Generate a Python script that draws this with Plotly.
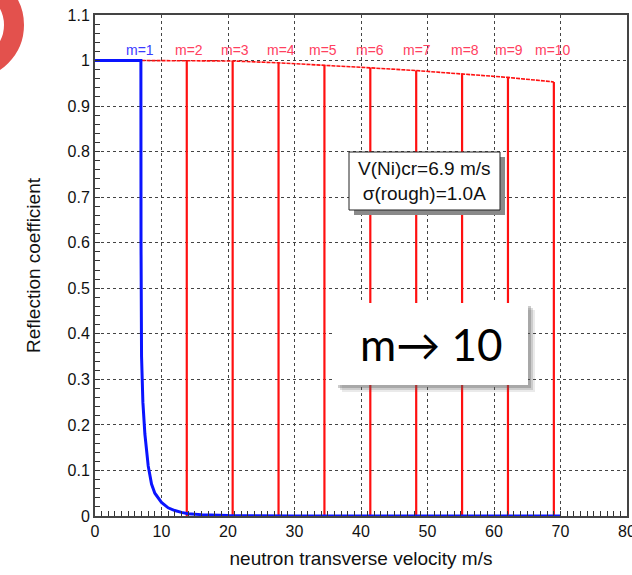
import plotly.graph_objects as go

# ---------------- data ----------------
blue_v = [0, 6.9, 6.92, 7.0, 7.2, 7.5, 8.0, 8.5, 9.0, 10.0, 11.0, 12.0, 13.0, 14.0, 16.0, 20.0, 30.0, 70.0]
blue_R = [1.0, 1.0, 0.6, 0.35, 0.25, 0.18, 0.11, 0.07, 0.05, 0.03, 0.018, 0.012, 0.008, 0.005, 0.003, 0.001, 0.0, 0.0]

m_orders = [2, 3, 4, 5, 6, 7, 8, 9, 10]
cutoff_v = [13.8, 20.7, 27.6, 34.5, 41.4, 48.3, 55.2, 62.1, 69.0]
top_R = [1.0, 0.999, 0.995, 0.99, 0.984, 0.978, 0.971, 0.963, 0.953]

label_text = ["m=1", "m=2", "m=3", "m=4", "m=5", "m=6", "m=7", "m=8", "m=9", "m=10"]
label_v = [6.8, 14.1, 21.0, 28.0, 34.3, 41.4, 48.4, 55.6, 62.3, 68.9]

x_ticks = [0, 10, 20, 30, 40, 50, 60, 70, 80]
y_ticks = [0, 0.1, 0.2, 0.3, 0.4, 0.5, 0.6, 0.7, 0.8, 0.9, 1.0, 1.1]

# ---------------- layout helpers ----------------
W, H = 632, 575
PX0, PX1, PY0, PY1 = 95, 627, 15, 516


def px(x):
    return (x - PX0) / (PX1 - PX0)


def py(y):
    return (PY1 - y) / (PY1 - PY0)


RED = "#ff1010"
LABEL_RED = "#ff4060"
BLUE = "#0a14ff"

fig = go.Figure()

# red plateau
fig.add_trace(go.Scatter(x=[7.0] + cutoff_v, y=[1.0] + top_R, mode="lines",
                         line=dict(color=RED, width=1.6, dash="4px,1px"),
                         hoverinfo="skip", showlegend=False))
# red verticals
vx, vy = [], []
for v, r in zip(cutoff_v, top_R):
    vx += [v, v, None]
    vy += [0, r, None]
fig.add_trace(go.Scatter(x=vx, y=vy, mode="lines", line=dict(color=RED, width=2.2),
                         hoverinfo="skip", showlegend=False))
# blue Ni curve
fig.add_trace(go.Scatter(x=blue_v, y=blue_R, mode="lines", line=dict(color=BLUE, width=3),
                         hoverinfo="skip", showlegend=False))

# m labels
for i, (t, v) in enumerate(zip(label_text, label_v)):
    fig.add_annotation(x=v, y=1.024, text=t, showarrow=False,
                       xanchor="center", yanchor="middle",
                       font=dict(family="Liberation Sans, Arial", size=14,
                                 color="#3a3aff" if i == 0 else LABEL_RED))

shapes = []
# red ring decoration
shapes.append(dict(type="circle", xref="paper", yref="paper",
                   x0=px(-74), x1=px(14), y0=py(69), y1=py(-19),
                   line=dict(color="#e3514d", width=20), layer="above"))
# info box with shadow
shapes.append(dict(type="rect", xref="paper", yref="paper",
                   x0=px(354), x1=px(505), y0=py(215), y1=py(157),
                   fillcolor="#8a8a8a", line=dict(width=0), layer="above"))
shapes.append(dict(type="rect", xref="paper", yref="paper",
                   x0=px(349), x1=px(500), y0=py(210), y1=py(152),
                   fillcolor="white", line=dict(color="#222", width=1), layer="above"))
# m -> 10 box with soft shadow
for off, op in [(7, 0.12), (5, 0.2), (3, 0.3)]:
    shapes.append(dict(type="rect", xref="paper", yref="paper",
                       x0=px(335 + off), x1=px(528 + off), y0=py(385 + off), y1=py(303 + off),
                       fillcolor="#555555", opacity=op, line=dict(width=0), layer="above"))
shapes.append(dict(type="rect", xref="paper", yref="paper",
                   x0=px(335), x1=px(528), y0=py(385), y1=py(303),
                   fillcolor="white", line=dict(width=0), layer="above"))

fig.add_annotation(xref="paper", yref="paper", x=px(424.5), y=py(181),
                   xanchor="center", yanchor="middle",
                   text="V(Ni)cr=6.9 m/s<br>σ(rough)=1.0A", showarrow=False,
                   font=dict(family="Liberation Sans, Arial", size=19, color="#111"))
fig.add_annotation(xref="paper", yref="paper", x=px(431), y=py(344),
                   xanchor="center", yanchor="middle",
                   text="m→ 10", showarrow=False,
                   font=dict(family="Lato, Open Sans", size=44, color="#000"))

axis_common = dict(showline=True, linecolor="#444", linewidth=2, mirror=True,
                   showgrid=True, gridcolor="#444", griddash="dot", gridwidth=1,
                   ticks="inside", ticklen=5, tickcolor="#333", tickwidth=1,
                   zeroline=False, ticklabeloverflow="allow", automargin=False,
                   tickfont=dict(family="Liberation Sans, Arial", size=16, color="#111"))

fig.update_layout(
    width=W, height=H,
    margin=dict(l=PX0, r=W - PX1, t=PY0, b=H - PY1),
    plot_bgcolor="white", paper_bgcolor="white",
    shapes=shapes,
    xaxis=dict(range=[0, 80], tickvals=x_ticks,
               minor=dict(dtick=1, ticks="inside", ticklen=5, tickcolor="#333", showgrid=False),
               title=dict(text="neutron transverse velocity m/s", standoff=12,
                          font=dict(family="Liberation Sans, Arial", size=19, color="#111")),
               **axis_common),
    yaxis=dict(range=[0, 1.1], tickvals=y_ticks,
               minor=dict(dtick=0.02, ticks="inside", ticklen=5, tickcolor="#333", showgrid=False),
               title=dict(text="Reflection coefficient", standoff=22,
                          font=dict(family="Liberation Sans, Arial", size=19, color="#111")),
               **axis_common),
)

fig.write_html("out.html")
